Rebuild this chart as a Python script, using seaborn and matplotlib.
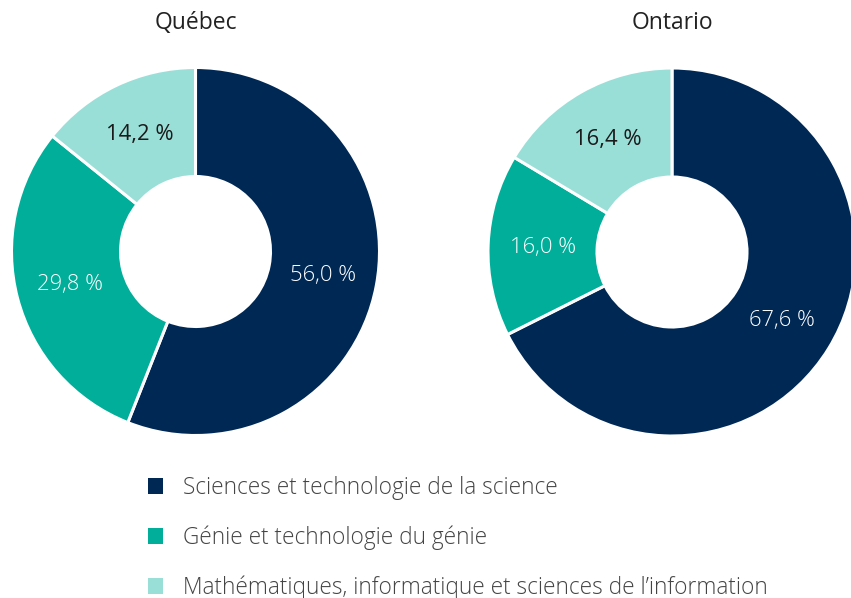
import matplotlib
matplotlib.use("Agg")
import matplotlib.pyplot as plt
from matplotlib.patches import Patch
import seaborn as sns

# Data
regions = ["Québec", "Ontario"]
categories = [
    "Sciences et technologie de la science",
    "Génie et technologie du génie",
    "Mathématiques, informatique et sciences de l\u2019information",
]
quebec_pct = [56.0, 29.8, 14.2]
ontario_pct = [67.6, 16.0, 16.4]

sns.set_theme(style="white")
plt.rcParams["font.family"] = ["Open Sans", "DejaVu Sans"]

palette = sns.color_palette(["#002855", "#00AE99", "#99DFD8"])
label_colors = ["white", "white", "#1a1a1a"]

W, H = 851, 598
fig = plt.figure(figsize=(W / 100, H / 100), dpi=100)

R = 184       # outer radius in px
R_IN = 75     # inner radius in px
centers = [(195.5, 251.5), (672, 252)]

for name, vals, (cx, cy) in zip(regions, [quebec_pct, ontario_pct], centers):
    ax = fig.add_axes([(cx - R) / W, (H - cy - R) / H, 2 * R / W, 2 * R / H])
    wedges, texts, autotexts = ax.pie(
        vals,
        colors=palette,
        startangle=90,
        counterclock=False,
        radius=1,
        autopct=lambda p: f"{p:.1f} %".replace(".", ","),
        pctdistance=(R + R_IN) / 2 / R,
        wedgeprops=dict(width=(R - R_IN) / R, edgecolor="white", linewidth=2.2),
        textprops=dict(fontsize=15.8),
    )
    for t, c in zip(autotexts, label_colors):
        t.set_color(c)
        if c == "white":
            t.set_fontweight("light")
    ax.set_xlim(-1, 1)
    ax.set_ylim(-1, 1)
    ax.axis("off")
    fig.text(cx / W, (H - 23) / H, name, ha="center", va="center",
             fontsize=16.5, color="#222222")

handles = [Patch(facecolor=c, edgecolor="none") for c in palette]
leg = fig.legend(
    handles, categories,
    loc="upper left",
    bbox_to_anchor=(148 / W, (H - 476) / H),
    frameon=False,
    fontsize=16.3,
    handlelength=0.68,
    handleheight=0.68,
    handletextpad=0.88,
    labelspacing=1.12,
    borderaxespad=0,
    borderpad=0,
)
for t in leg.get_texts():
    t.set_color("#444444")
    t.set_fontweight("light")

fig.savefig("out.png", dpi=100)
